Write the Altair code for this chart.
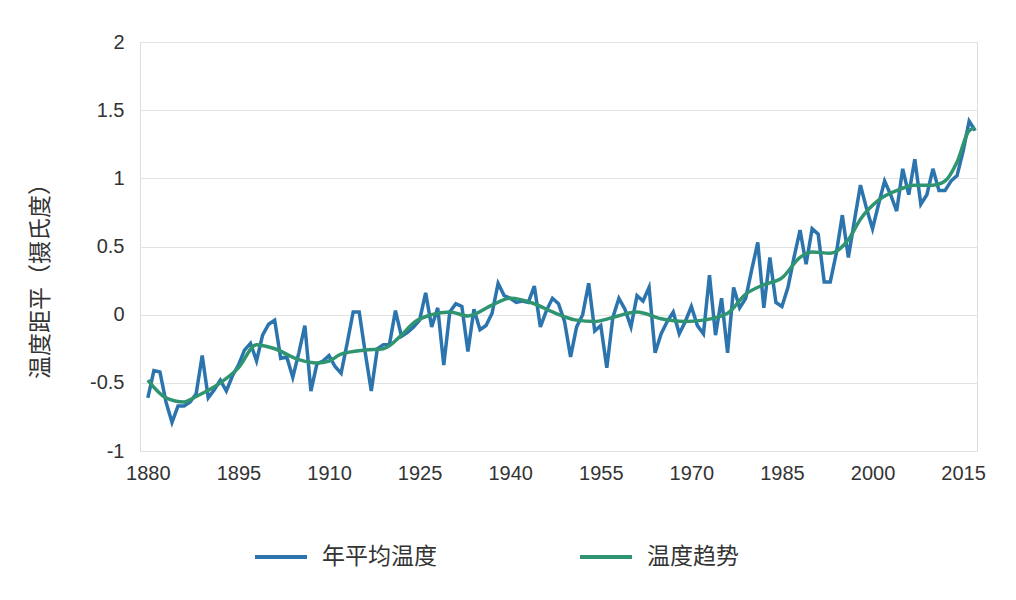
import altair as alt
import pandas as pd

years = list(range(1880, 2018))
annual = [
    -0.61, -0.41, -0.42, -0.64, -0.79, -0.67, -0.67, -0.64, -0.58, -0.30,  # 1880-1889
    -0.61, -0.55, -0.48, -0.56, -0.45, -0.37, -0.26, -0.21, -0.34, -0.15,  # 1890-1899
    -0.07, -0.04, -0.32, -0.31, -0.46, -0.28, -0.08, -0.56, -0.36, -0.34,  # 1900-1909
    -0.30, -0.38, -0.43, -0.21, 0.02, 0.02, -0.28, -0.56, -0.25, -0.22,    # 1910-1919
    -0.22, 0.03, -0.16, -0.13, -0.09, -0.04, 0.16, -0.09, 0.05, -0.37,     # 1920-1929
    0.02, 0.08, 0.06, -0.27, 0.04, -0.11, -0.08, 0.01, 0.23, 0.14,         # 1930-1939
    0.12, 0.09, 0.10, 0.09, 0.21, -0.09, 0.03, 0.12, 0.08, -0.05,          # 1940-1949
    -0.31, -0.09, 0.00, 0.23, -0.12, -0.08, -0.39, -0.02, 0.12, 0.04,      # 1950-1959
    -0.09, 0.14, 0.10, 0.20, -0.28, -0.14, -0.05, 0.02, -0.14, -0.05,      # 1960-1969
    0.06, -0.08, -0.14, 0.29, -0.15, 0.12, -0.28, 0.20, 0.05, 0.12,        # 1970-1979
    0.33, 0.53, 0.05, 0.42, 0.09, 0.06, 0.20, 0.42, 0.62, 0.37,            # 1980-1989
    0.63, 0.59, 0.24, 0.24, 0.45, 0.73, 0.42, 0.69, 0.95, 0.78,            # 1990-1999
    0.63, 0.81, 0.98, 0.88, 0.76, 1.07, 0.88, 1.14, 0.81, 0.88,            # 2000-2009
    1.07, 0.91, 0.91, 0.98, 1.02, 1.20, 1.42, 1.35,                        # 2010-2017
]
assert len(years) == len(annual)

trend_years = [1880, 1883, 1886, 1888, 1892, 1895, 1898, 1901, 1905, 1908, 1910,
               1912, 1916, 1919, 1922, 1924, 1927, 1930, 1933, 1937, 1940, 1944,
               1947, 1951, 1954, 1957, 1961, 1965, 1969, 1972, 1976, 1979, 1982,
               1985, 1988, 1990, 1993, 1996, 1998, 2001, 2004, 2007, 2010, 2012,
               2014, 2016, 2017]
trend_vals = [-0.48, -0.61, -0.64, -0.60, -0.50, -0.39, -0.22, -0.25, -0.33, -0.355, -0.34,
              -0.29, -0.26, -0.25, -0.15, -0.06, 0.00, 0.02, -0.01, 0.07, 0.12, 0.08,
              0.02, -0.04, -0.05, -0.02, 0.02, -0.03, -0.05, -0.04, 0.01, 0.15, 0.22,
              0.27, 0.42, 0.46, 0.45, 0.55, 0.70, 0.84, 0.91, 0.95, 0.95, 0.98,
              1.12, 1.35, 1.37]
assert len(trend_years) == len(trend_vals)

series_names = ["年平均温度", "温度趋势"]
series_colors = ["#2b74ad", "#2f9470"]

x_ticks = [1880, 1895, 1910, 1925, 1940, 1955, 1970, 1985, 2000, 2015]
y_ticks = [-1, -0.5, 0, 0.5, 1, 1.5, 2]

df_a = pd.DataFrame({"year": years, "value": annual, "series": series_names[0]})
df_t = pd.DataFrame({"year": trend_years, "value": trend_vals, "series": series_names[1]})

x_enc = alt.X("year:Q",
              scale=alt.Scale(domain=[1878.7, 2017.3], nice=False, zero=False),
              axis=alt.Axis(values=x_ticks, labelExpr="datum.value + ''", grid=False,
                            domain=False, ticks=False, labelPadding=12, title=None,
                            labelFontSize=20, labelColor="#333333",
                            labelFont="Liberation Sans"))
y_enc = alt.Y("value:Q",
              scale=alt.Scale(domain=[-1, 2], nice=False),
              axis=alt.Axis(values=y_ticks, labelExpr="datum.value + ''", grid=True,
                            gridColor="#e3e3e3", gridWidth=1, domain=False, ticks=False,
                            labelPadding=16, labelFontSize=20, labelColor="#333333",
                            labelFont="Liberation Sans",
                            title="温度距平（摄氏度）", titleFont="Noto Sans CJK SC",
                            titleFontSize=23, titleFontWeight="normal", titleColor="#333333",
                            titleX=-100, titleY=233, titleAlign="center",
                            titleBaseline="middle", titleAngle=-90))
color_enc = alt.Color("series:N",
                      scale=alt.Scale(domain=series_names, range=series_colors),
                      legend=alt.Legend(title=None, orient="none", legendX=113, legendY=487,
                                        direction="horizontal", symbolType="stroke",
                                        symbolSize=2704, symbolStrokeWidth=4,
                                        labelFontSize=23, labelFont="Noto Sans CJK SC",
                                        labelColor="#333333", labelOffset=13,
                                        columnPadding=135))

annual_line = alt.Chart(df_a).mark_line(strokeWidth=3.5).encode(
    x=x_enc, y=y_enc, color=color_enc)
trend_line = alt.Chart(df_t).mark_line(strokeWidth=3.5, interpolate="monotone").encode(
    x=x_enc, y=y_enc, color=color_enc)

chart = alt.layer(annual_line, trend_line).properties(
    width=837, height=409,
    autosize=alt.AutoSizeParams(type="none"),
    padding={"left": 140, "top": 42, "right": 39, "bottom": 149},
).configure_view(stroke=None).configure(background="white")

chart.save("out.html", embed_options={"renderer": "svg", "actions": False})
